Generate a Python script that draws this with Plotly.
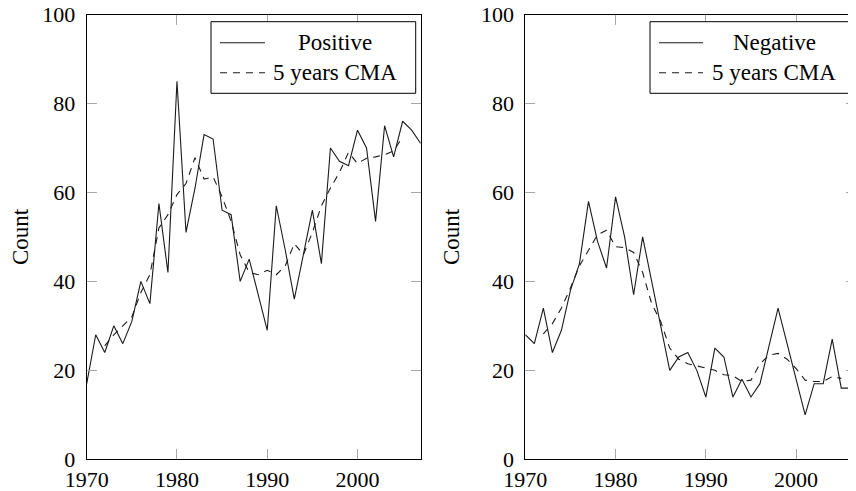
import plotly.graph_objects as go

# ---------------- data ----------------
years = list(range(1970, 2008))
positive = [17, 28, 24, 30, 26, 31, 40, 35, 57.5, 42, 85, 51, 61, 73, 72, 56, 55, 40,
            45, 37, 29, 57, 47, 36, 46, 56, 44, 70, 67, 66, 74, 70, 53.5, 75, 68, 76, 74, 71]
negative = [28, 26, 34, 24, 29, 38, 44, 58, 49, 43, 59, 50, 37, 50, 40, 30, 20, 23,
            24, 20, 14, 25, 23, 14, 18, 14, 17, 25.5, 34, 26, 18, 10, 17, 17, 27, 16, 16, 13]
cma_years = list(range(1972, 2006))
positive_cma = [25.5, 28, 30, 32, 37.5, 41.5, 52, 55, 59.5, 62, 67.8, 63, 63.5, 59, 53.5, 46,
                42, 41.5, 42.5, 41.5, 43.5, 48.5, 46, 51, 57, 61, 64.5, 69, 66.5, 67.7, 68,
                68.5, 69.3, 72.5]
negative_cma = [28.2, 30.5, 34, 38.5, 43.5, 47, 50.5, 51.5, 47.8, 47.6, 46.5, 42, 35, 31, 25,
                22.5, 21.5, 21, 20.5, 20, 19, 18.8, 17.5, 17.8, 21.5, 23.4, 23.8, 22.5, 20.4,
                17.8, 17.5, 17.5, 18.6, 18.2]
x_ticks = [1970, 1980, 1990, 2000]
y_ticks = [0, 20, 40, 60, 80, 100]
series_names = ["Positive", "Negative"]
cma_name = "5 years CMA"
y_title = "Count"

# ---------------- layout helpers ----------------
OFF = 8                      # page body margin
W, H = 856 - OFF, 491 - OFF  # figure fills the rest of the window
FONT = "Liberation Serif"
LINE = "#1a1a1a"
TICK = "#a8a8a8"


def px(x):
    """page pixel x -> paper fraction"""
    return (x - OFF) / W


def py(y):
    """page pixel y -> paper fraction"""
    return 1 - (y - OFF) / H


fig = go.Figure()

dash = "7px,6px"
for i, (vals, cma) in enumerate([(positive, positive_cma), (negative, negative_cma)]):
    xa = "x" if i == 0 else "x2"
    ya = "y" if i == 0 else "y2"
    fig.add_trace(go.Scatter(x=years, y=vals, mode="lines", xaxis=xa, yaxis=ya,
                             line=dict(color=LINE, width=1.1), showlegend=False,
                             name=series_names[i]))
    fig.add_trace(go.Scatter(x=cma_years, y=cma, mode="lines", xaxis=xa, yaxis=ya,
                             line=dict(color=LINE, width=1.1, dash=dash), showlegend=False,
                             name=cma_name))
# helper trace for right-side mirrored ticks of the clipped right panel
fig.add_trace(go.Scatter(x=[], y=[], xaxis="x2", yaxis="y3", showlegend=False))

top, bottom = 14.5, 459.3
left_l, left_r = 86.7, 420.7
right_l = 525.3
ppy = (left_r - left_l) / 37.0  # pixels per year
right_end = 1970 + (856 - right_l) / ppy

axis_common = dict(showline=True, linecolor="black", linewidth=1, ticks="inside",
                   ticklen=10, tickcolor=TICK, tickwidth=1, showgrid=False, zeroline=False,
                   automargin=False, ticklabeloverflow="allow",
                   tickfont=dict(family=FONT, size=22, color="black"))

fig.update_layout(
    template="none",
    width=W, height=H, margin=dict(l=0, r=0, t=0, b=0, pad=0),
    paper_bgcolor="white", plot_bgcolor="white",
    xaxis=dict(domain=[px(left_l), px(left_r)], range=[1970, 2007], tickvals=x_ticks,
               mirror="ticks", anchor="y", **axis_common),
    yaxis=dict(domain=[py(bottom), py(top)], range=[0, 100], tickvals=y_ticks,
               mirror="ticks", anchor="x", ticklabelstandoff=6,
               title=dict(text=y_title, font=dict(family=FONT, size=23, color="black"),
                          standoff=14), **axis_common),
    xaxis2=dict(domain=[px(right_l), 1.0], range=[1970, right_end], tickvals=x_ticks,
                mirror="ticks", anchor="y2", **axis_common),
    yaxis2=dict(domain=[py(bottom), py(top)], range=[0, 100], tickvals=y_ticks,
                mirror=False, anchor="x2", ticklabelstandoff=6,
                title=dict(text=y_title, font=dict(family=FONT, size=23, color="black"),
                           standoff=14), **axis_common),
    yaxis3=dict(overlaying="y2", side="right", anchor="x2", range=[0, 100], tickvals=y_ticks,
                showticklabels=False, showline=False, ticks="inside", ticklen=10,
                tickcolor=TICK, tickwidth=1, showgrid=False, zeroline=False, automargin=False),
)

# ---------------- legends (box, samples, centred text) ----------------
legend_specs = [
    dict(x0=211, x1=415.7, s0=220, s1=265, tc=335, name=series_names[0]),
    dict(x0=650, x1=852, s0=659, s1=703, tc=774, name=series_names[1]),
]
row_y = [42.7, 72.7]
for lg in legend_specs:
    fig.add_shape(type="rect", xref="paper", yref="paper",
                  x0=px(lg["x0"]), x1=px(lg["x1"]), y0=py(93.3), y1=py(21.7),
                  line=dict(color="black", width=1), fillcolor="white", layer="above")
    for r, (txt, d) in enumerate([(lg["name"], "solid"), (cma_name, dash)]):
        fig.add_shape(type="line", xref="paper", yref="paper",
                      x0=px(lg["s0"]), x1=px(lg["s1"]), y0=py(row_y[r]), y1=py(row_y[r]),
                      line=dict(color=LINE, width=1.1, dash=d), layer="above")
        fig.add_annotation(x=px(lg["tc"]), y=py(row_y[r]), xref="paper", yref="paper",
                           text=txt, showarrow=False, xanchor="center", yanchor="middle",
                           font=dict(family=FONT, size=23, color="black"))

fig.write_html("out.html")
